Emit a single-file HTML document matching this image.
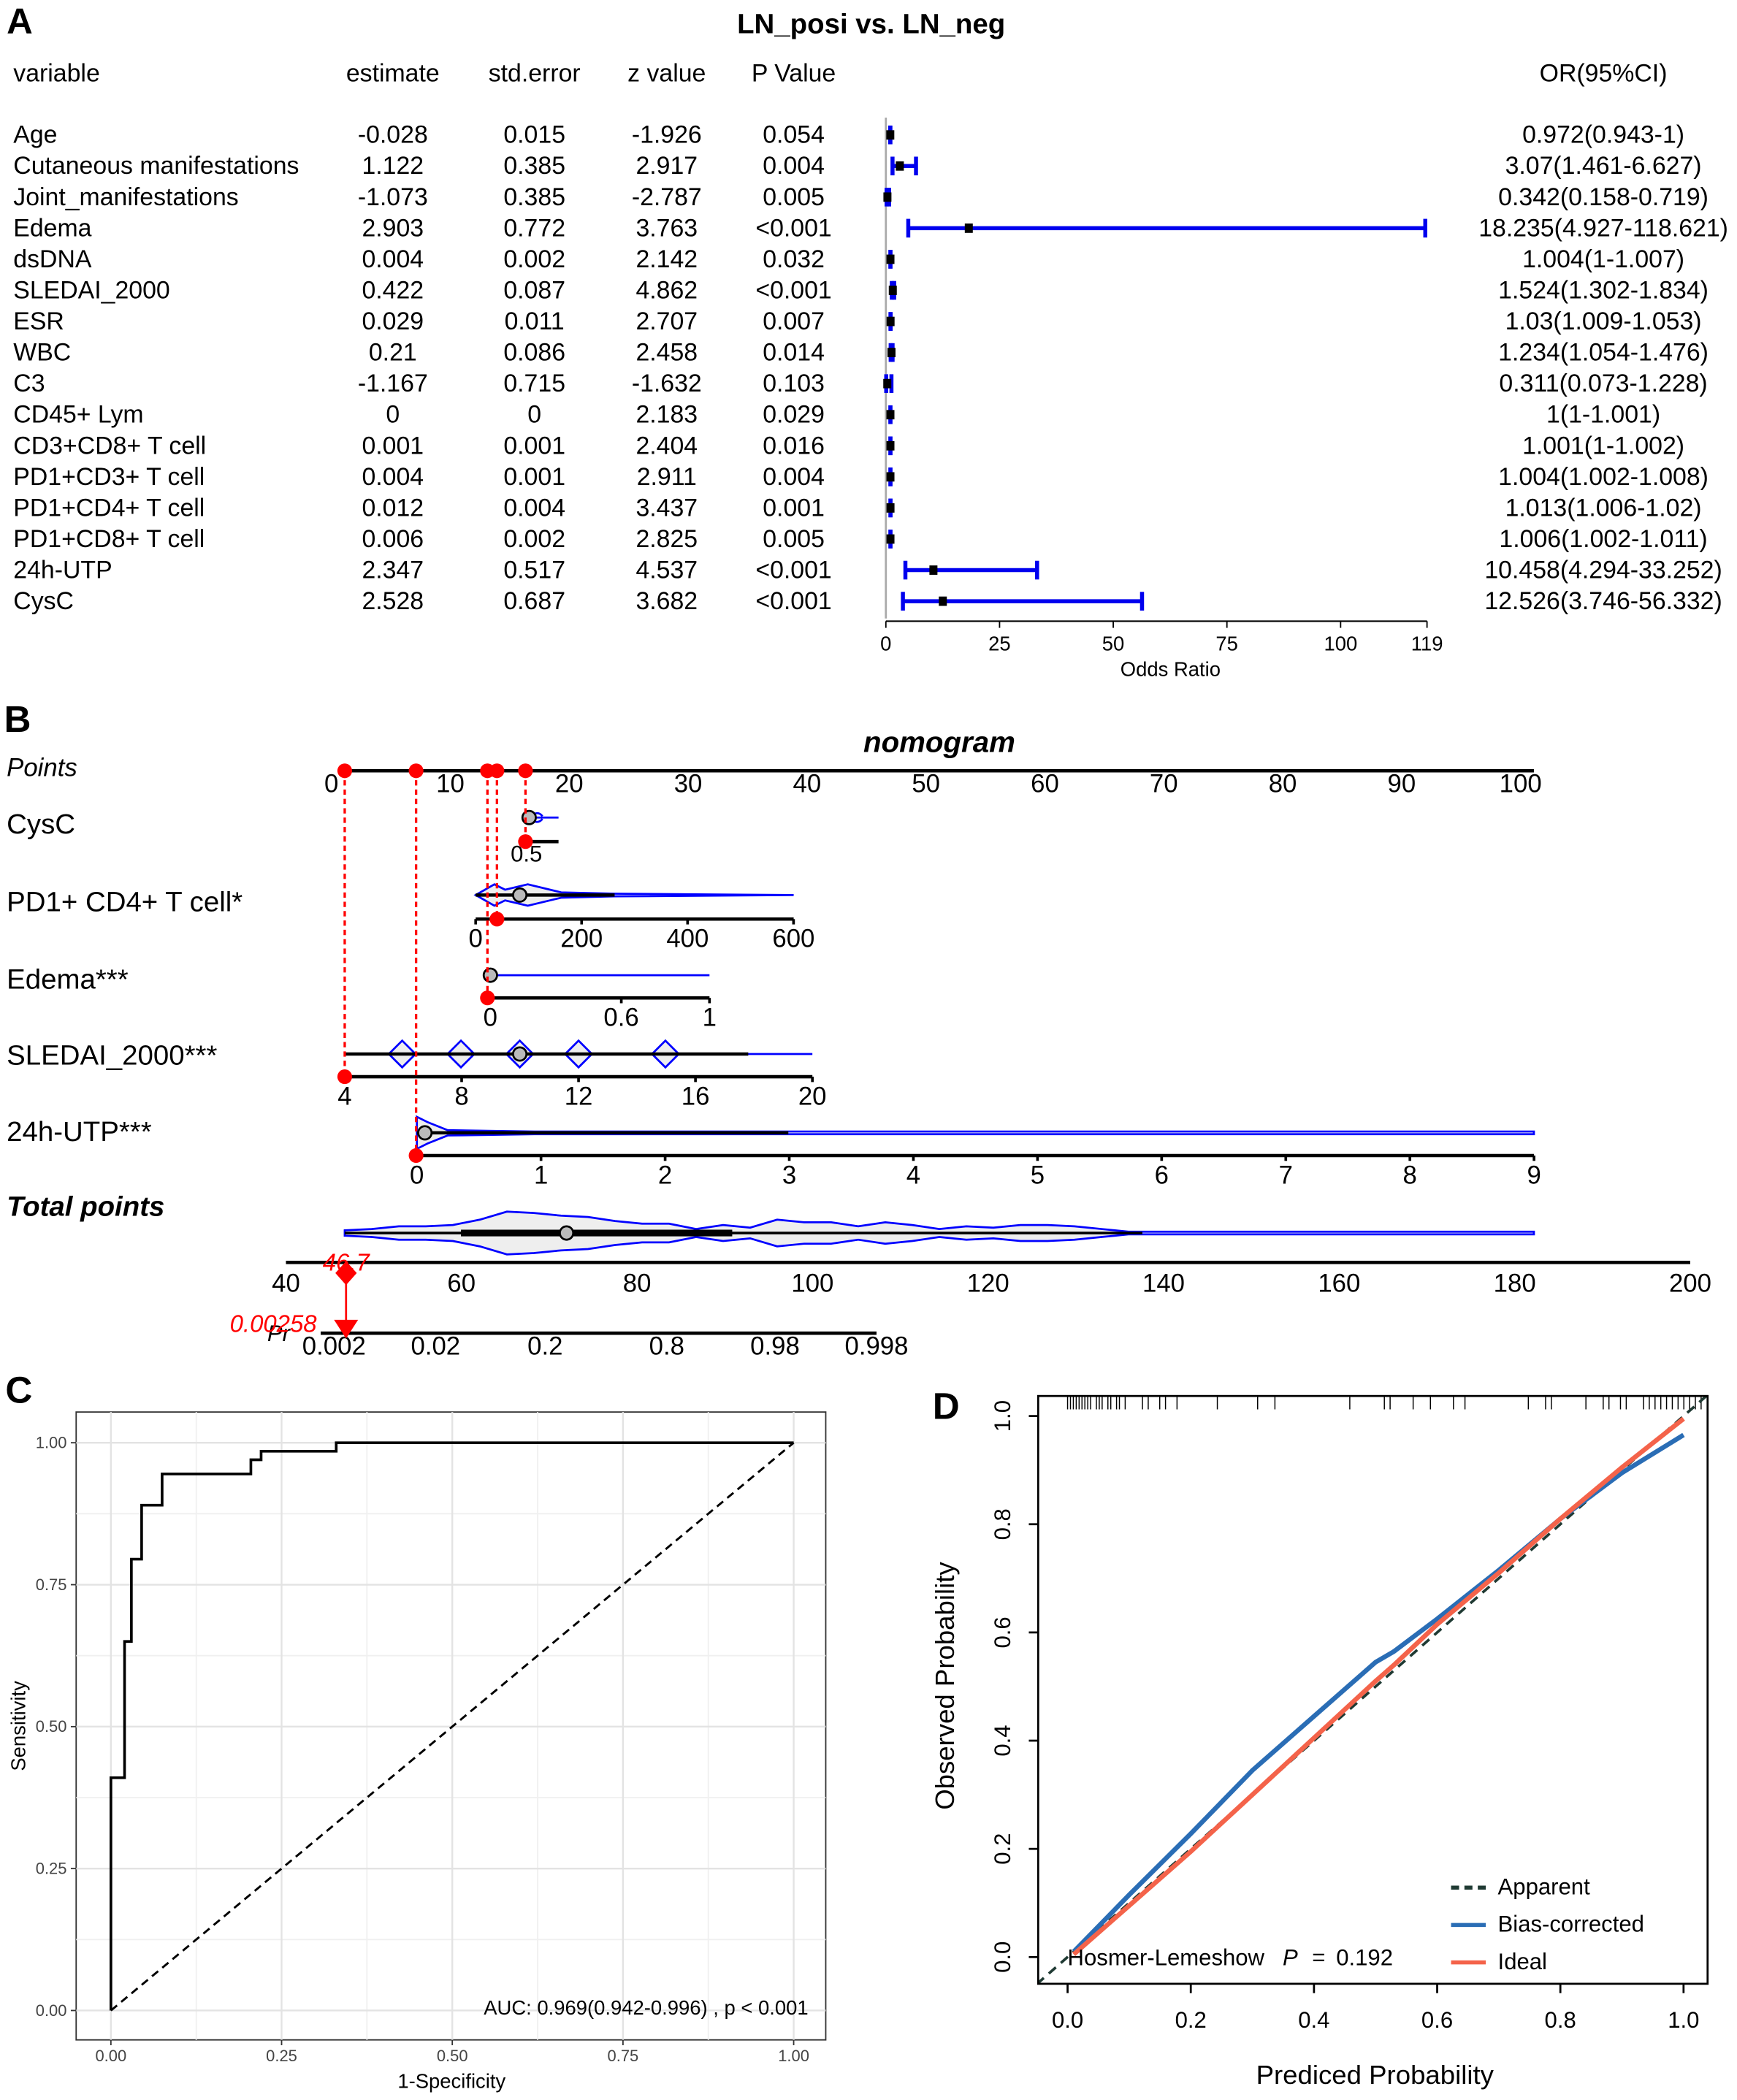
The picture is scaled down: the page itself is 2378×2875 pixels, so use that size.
<!DOCTYPE html>
<html><head><meta charset="utf-8"><style>
html,body{margin:0;padding:0;background:#fff}
svg{display:block}
text{font-family:"Liberation Sans",Arial,sans-serif}
</style></head><body>
<svg id="fig" xmlns="http://www.w3.org/2000/svg" width="2378" height="2875" viewBox="0 0 1300 1572" preserveAspectRatio="none">
<rect width="1300" height="1572" fill="#fff"/>
<g id="pa"></g>
<g id="pb"></g>
<g id="pc"></g>
<g id="pd"></g>
</svg>
<script>
// ---------- Panel A data ----------
const varNames=["Age","Cutaneous manifestations","Joint_manifestations","Edema","dsDNA","SLEDAI_2000","ESR","WBC","C3","CD45+ Lym","CD3+CD8+ T cell","PD1+CD3+ T cell","PD1+CD4+ T cell","PD1+CD8+ T cell","24h-UTP","CysC"];
const estimates=["-0.028","1.122","-1.073","2.903","0.004","0.422","0.029","0.21","-1.167","0","0.001","0.004","0.012","0.006","2.347","2.528"];
const stdErrors=["0.015","0.385","0.385","0.772","0.002","0.087","0.011","0.086","0.715","0","0.001","0.001","0.004","0.002","0.517","0.687"];
const zValues=["-1.926","2.917","-2.787","3.763","2.142","4.862","2.707","2.458","-1.632","2.183","2.404","2.911","3.437","2.825","4.537","3.682"];
const pValues=["0.054","0.004","0.005","<0.001","0.032","<0.001","0.007","0.014","0.103","0.029","0.016","0.004","0.001","0.005","<0.001","<0.001"];
const orValues=[0.972,3.07,0.342,18.235,1.004,1.524,1.03,1.234,0.311,1,1.001,1.004,1.013,1.006,10.458,12.526];
const orLow=[0.943,1.461,0.158,4.927,1,1.302,1.009,1.054,0.073,1,1,1.002,1.006,1.002,4.294,3.746];
const orHigh=[1,6.627,0.719,118.621,1.007,1.834,1.053,1.476,1.228,1.001,1.002,1.008,1.02,1.011,33.252,56.332];
const orLabels=["0.972(0.943-1)","3.07(1.461-6.627)","0.342(0.158-0.719)","18.235(4.927-118.621)","1.004(1-1.007)","1.524(1.302-1.834)","1.03(1.009-1.053)","1.234(1.054-1.476)","0.311(0.073-1.228)","1(1-1.001)","1.001(1-1.002)","1.004(1.002-1.008)","1.013(1.006-1.02)","1.006(1.002-1.011)","10.458(4.294-33.252)","12.526(3.746-56.332)"];
const orTicks=[0,25,50,75,100,119];

// ---------- Panel B data ----------
const pointTicks=[0,10,20,30,40,50,60,70,80,90,100];
const selectedPoints=[0,6,12,12.8,15.2];
const totalTicks=[40,60,80,100,120,140,160,180,200];
const totalViolin=[2,3,5,5,6,10,16,15,13,12,9,7,7,3,6,4,10,8,8,5,8,6,3,5,4,6,6,5,3,1,1,1,1,1,1,1,1,1,1,1,1,1,1,1,1];
const prLabels=["0.002","0.02","0.2","0.8","0.98","0.998"];
const prValues=[0.002,0.02,0.2,0.8,0.98,0.998];

// ---------- Panel C data ----------
const rocFpr=[0,0,0.02,0.02,0.03,0.03,0.045,0.045,0.075,0.075,0.205,0.205,0.22,0.22,0.33,0.33,1];
const rocTpr=[0,0.41,0.41,0.65,0.65,0.795,0.795,0.89,0.89,0.945,0.945,0.97,0.97,0.985,0.985,1,1];
const rocTicks=[0,0.25,0.5,0.75,1];
const rocTickLabels=["0.00","0.25","0.50","0.75","1.00"];

// ---------- Panel D data ----------
const calX=[0.01,0.1,0.2,0.3,0.4,0.5,0.53,0.6,0.7,0.8,0.9,1.0];
const biasY=[0.01,0.115,0.228,0.345,0.445,0.545,0.565,0.625,0.715,0.81,0.895,0.965];
const idealY=[0.005,0.095,0.195,0.3,0.405,0.51,0.54,0.615,0.71,0.81,0.905,0.995];
const apparentX=[-0.05,1.05];
const apparentY=[-0.05,1.05];
const rugX=[0.0,0.005,0.01,0.015,0.02,0.025,0.03,0.035,0.04,0.05,0.055,0.06,0.07,0.075,0.085,0.09,0.1,0.13,0.14,0.16,0.17,0.19,0.26,0.33,0.36,0.49,0.55,0.56,0.6,0.63,0.67,0.69,0.8,0.83,0.84,0.9,0.93,0.94,0.96,0.97,1.0,1.01,1.02,1.03,1.04,1.05,1.06,1.07,1.08,1.09,1.1];
const calTicks=[0,0.2,0.4,0.6,0.8,1.0];
const calTickLabels=["0.0","0.2","0.4","0.6","0.8","1.0"];

const NS="http://www.w3.org/2000/svg";
function mk(parent,tag,attrs,txt){const e=document.createElementNS(NS,tag);for(const k in attrs)e.setAttribute(k,attrs[k]);if(txt!==undefined)e.textContent=txt;parent.appendChild(e);return e;}

// ===== Panel A =====
const pa=document.getElementById('pa');
const FA=18.5;
const xOR=v=>663+v*(405/119);
const rowY=i=>101+i*23.27;
let t=mk(pa,'text',{x:5,y:25,'font-size':27,'font-weight':'bold'},'A');

t=mk(pa,'text',{x:652,y:25,'font-size':21,'font-weight':'bold','text-anchor':'middle'},'LN_posi vs. LN_neg');

const heads=[["variable",10,'start'],["estimate",294,'middle'],["std.error",400,'middle'],["z value",499,'middle'],["P Value",594,'middle'],["OR(95%CI)",1200,'middle']];
heads.forEach(h=>{const e=mk(pa,'text',{x:h[1],y:61,'font-size':FA,'text-anchor':h[2]},h[0]);
});
mk(pa,'line',{x1:663,y1:88,x2:663,y2:463,stroke:'#aaa','stroke-width':1.5});
varNames.forEach((n,i)=>{
  const y=rowY(i)+6;
  let e=mk(pa,'text',{x:10,y:y,'font-size':FA},n);
  e=mk(pa,'text',{x:294,y:y,'font-size':FA,'text-anchor':'middle'},estimates[i]);
  e=mk(pa,'text',{x:400,y:y,'font-size':FA,'text-anchor':'middle'},stdErrors[i]);
  e=mk(pa,'text',{x:499,y:y,'font-size':FA,'text-anchor':'middle'},zValues[i]);
  e=mk(pa,'text',{x:594,y:y,'font-size':FA,'text-anchor':'middle'},pValues[i]);
  e=mk(pa,'text',{x:1200,y:y,'font-size':FA,'text-anchor':'middle'},orLabels[i]);
  const rg=mk(pa,'g',{});
  const ry=rowY(i),a=xOR(orLow[i]),b=xOR(orHigh[i]);
  mk(rg,'line',{x1:a,y1:ry,x2:b,y2:ry,stroke:'#0000ee','stroke-width':3});
  mk(rg,'line',{x1:a,y1:ry-7,x2:a,y2:ry+7,stroke:'#0000ee','stroke-width':3});
  mk(rg,'line',{x1:b,y1:ry-7,x2:b,y2:ry+7,stroke:'#0000ee','stroke-width':3});
  mk(rg,'rect',{x:xOR(orValues[i])-3,y:ry-3.5,width:6,height:7,fill:'#000'});
});
mk(pa,'line',{x1:xOR(0),y1:465,x2:xOR(119),y2:465,stroke:'#000','stroke-width':1.2});
orTicks.forEach(v=>{mk(pa,'line',{x1:xOR(v),y1:465,x2:xOR(v),y2:470,stroke:'#000'});
 const e=mk(pa,'text',{x:xOR(v),y:487,'font-size':15,'text-anchor':'middle'},String(v));});
t=mk(pa,'text',{x:876,y:506,'font-size':15,'text-anchor':'middle'},'Odds Ratio');

// ===== Panel B =====
const pb=document.getElementById('pb');
const xP=p=>258+p*8.9;
t=mk(pb,'text',{x:3,y:548,'font-size':28,'font-weight':'bold'},'B');
t=mk(pb,'text',{x:703,y:563,'font-size':22,'font-weight':'bold','font-style':'italic','text-anchor':'middle'},'nomogram');
function axis(ag,y,x1,x2,labels,posFn){
  mk(ag,'line',{x1:x1,y1:y,x2:x2,y2:y,stroke:'#000','stroke-width':2.5});
  labels.forEach((l,i)=>{const x=posFn(i);mk(ag,'line',{x1:x,y1:y,x2:x,y2:y+4,stroke:'#000','stroke-width':2});
   const e=mk(ag,'text',{x:x,y:y+21,'font-size':19,'text-anchor':'middle'},l);});
}
function rowLabel(txt,y,bold){const e=mk(pb,'text',{x:5,y:y,'font-size':21,'font-style':bold?'italic':'normal','font-weight':bold?'bold':'normal'},txt);}
t=mk(pb,'text',{x:5,y:581,'font-size':19,'font-style':'italic'},'Points');
let g=mk(pb,'g',{});
mk(g,'line',{x1:xP(0),y1:577,x2:xP(100),y2:577,stroke:'#000','stroke-width':2.5});
pointTicks.forEach(p=>{const e=mk(g,'text',{x:xP(p)-10,y:593,'font-size':19,'text-anchor':'middle'},String(p));});
rowLabel('CysC',624);rowLabel('PD1+ CD4+ T cell*',682);rowLabel('Edema***',740);rowLabel('SLEDAI_2000***',797);rowLabel('24h-UTP***',854);rowLabel('Total points',910,true);
// CysC
g=mk(pb,'g',{});
mk(g,'path',{d:'M396 612 L418 612 M396 612 q6 -6 10 -1 M396 612 q6 6 10 1',stroke:'#00f',fill:'none','stroke-width':1.5});
mk(g,'circle',{cx:396,cy:612,r:5,fill:'#bbb',stroke:'#000','stroke-width':1.5});
mk(g,'line',{x1:396,y1:630,x2:418,y2:630,stroke:'#000','stroke-width':2.5});
t=mk(g,'text',{x:394,y:645,'font-size':17,'text-anchor':'middle'},'0.5');
// PD1
g=mk(pb,'g',{});
mk(g,'path',{d:'M356 670 L370 662 L378 666 L395 662 L420 668 L460 669 L594 670 L460 671 L420 672 L395 678 L378 674 L370 678 Z',fill:'#eee',stroke:'#00f','stroke-width':1.5});
mk(g,'line',{x1:356,y1:670,x2:460,y2:670,stroke:'#000','stroke-width':2.5});
mk(g,'circle',{cx:389,cy:670,r:5,fill:'#bbb',stroke:'#000','stroke-width':1.5});
axis(g,688,356,594,["0","200","400","600"],i=>356+i*79.3);
// Edema
g=mk(pb,'g',{});
mk(g,'line',{x1:367,y1:730,x2:531,y2:730,stroke:'#00f','stroke-width':1.5});
mk(g,'circle',{cx:367,cy:730,r:5,fill:'#bbb',stroke:'#000','stroke-width':1.5});
axis(g,747,367,531,["0","0.6","1"],i=>[367,465,531][i]);
// SLEDAI
g=mk(pb,'g',{});
mk(g,'line',{x1:258,y1:789,x2:608,y2:789,stroke:'#00f','stroke-width':1.5});
[301,345,389,433,498].forEach(x=>mk(g,'path',{d:`M${x-10} 789 L${x} 779 L${x+10} 789 L${x} 799 Z`,fill:'#eee',stroke:'#00f','stroke-width':1.5}));
mk(g,'line',{x1:258,y1:789,x2:560,y2:789,stroke:'#000','stroke-width':2.5});
mk(g,'circle',{cx:389,cy:789,r:5,fill:'#bbb',stroke:'#000','stroke-width':1.5});
axis(g,806,258,608,["4","8","12","16","20"],i=>258+i*87.5);
// UTP
g=mk(pb,'g',{});
mk(g,'path',{d:'M312 836 L320 840 L335 846 L400 847 L1148 847 L1148 849 L400 849 L335 850 L320 856 L312 860 Z',fill:'#eee',stroke:'#00f','stroke-width':1.5});
mk(g,'line',{x1:312,y1:848,x2:590,y2:848,stroke:'#000','stroke-width':2.5});
mk(g,'circle',{cx:318,cy:848,r:5,fill:'#bbb',stroke:'#000','stroke-width':1.5});
axis(g,865,312,1148,["0","1","2","3","4","5","6","7","8","9"],i=>312+i*92.9);
// Total points
g=mk(pb,'g',{});
const xT=v=>214+(v-40)*(1051/160);
let violTop='',violBot='';const vStep=(1148-258)/(totalViolin.length-1);
totalViolin.forEach((h,i)=>{const x=258+i*vStep;violTop+=(i?' L':'M')+x+' '+(923-h);});
for(let i=totalViolin.length-1;i>=0;i--){violBot+=' L'+(258+i*vStep)+' '+(923+totalViolin[i]);}
mk(g,'path',{d:violTop+violBot+' Z',fill:'#eee',stroke:'#00f','stroke-width':1.5});
mk(g,'line',{x1:258,y1:923,x2:855,y2:923,stroke:'#000','stroke-width':2});
mk(g,'line',{x1:345,y1:923,x2:548,y2:923,stroke:'#000','stroke-width':5});
mk(g,'circle',{cx:424,cy:923,r:5,fill:'#bbb',stroke:'#000','stroke-width':1.5});
mk(g,'line',{x1:214,y1:945,x2:1265,y2:945,stroke:'#000','stroke-width':2.5});
totalTicks.forEach(v=>{const e=mk(g,'text',{x:xT(v),y:967,'font-size':19,'text-anchor':'middle'},String(v));});
// Pr axis
g=mk(pb,'g',{});
mk(g,'line',{x1:240,y1:998,x2:656,y2:998,stroke:'#000','stroke-width':2.5});
const prX=[250,326,408,499,580,656];
prLabels.forEach((l,i)=>{const e=mk(g,'text',{x:prX[i],y:1014,'font-size':19,'text-anchor':'middle'},l);});
t=mk(g,'text',{x:200,y:1004,'font-size':17,'font-style':'italic'},'Pr');
// red selections
g=mk(pb,'g',{});
const ends=[806,865,747,688,630];
selectedPoints.forEach((p,i)=>{const x=xP(p);
 mk(g,'line',{x1:x,y1:577,x2:x,y2:ends[i],stroke:'#f00','stroke-width':1.8,'stroke-dasharray':'4 3'});
 mk(g,'circle',{cx:x,cy:577,r:5.5,fill:'#f00'});mk(g,'circle',{cx:x,cy:ends[i],r:5.5,fill:'#f00'});});
mk(g,'path',{d:'M259 944 L267 953 L259 962 L251 953 Z',fill:'#f00'});
mk(g,'line',{x1:259,y1:953,x2:259,y2:990,stroke:'#f00','stroke-width':1.5});
mk(g,'path',{d:'M250 988 L268 988 L259 1002 Z',fill:'#f00'});
t=mk(g,'text',{x:259,y:951,'font-size':18,'font-style':'italic',fill:'#f00','text-anchor':'middle'},'46.7');
t=mk(g,'text',{x:172,y:997,'font-size':18,'font-style':'italic',fill:'#f00'},'0.00258');

// ===== Panel C =====
const pc=document.getElementById('pc');
const cxF=v=>83+v*511, cyF=v=>1505-v*425;
t=mk(pc,'text',{x:4,y:1050,'font-size':28,'font-weight':'bold'},'C');
mk(pc,'rect',{x:57,y:1057,width:561,height:470,fill:'#fff',stroke:'#333','stroke-width':1});
[0.125,0.375,0.625,0.875].forEach(v=>{mk(pc,'line',{x1:cxF(v),y1:1057,x2:cxF(v),y2:1527,stroke:'#f0f0f0','stroke-width':1});mk(pc,'line',{x1:57,y1:cyF(v),x2:618,y2:cyF(v),stroke:'#f0f0f0','stroke-width':1});});
rocTicks.forEach((v,i)=>{mk(pc,'line',{x1:cxF(v),y1:1057,x2:cxF(v),y2:1527,stroke:'#e3e3e3','stroke-width':1.3});mk(pc,'line',{x1:57,y1:cyF(v),x2:618,y2:cyF(v),stroke:'#e3e3e3','stroke-width':1.3});
 mk(pc,'line',{x1:cxF(v),y1:1527,x2:cxF(v),y2:1531,stroke:'#333'});mk(pc,'line',{x1:53,y1:cyF(v),x2:57,y2:cyF(v),stroke:'#333'});
 let e=mk(pc,'text',{x:cxF(v),y:1543,'font-size':12,fill:'#444','text-anchor':'middle'},rocTickLabels[i]);
 e=mk(pc,'text',{x:50,y:cyF(v)+4,'font-size':12,fill:'#444','text-anchor':'end'},rocTickLabels[i]);});
let pathD=rocFpr.map((f,i)=>(i?'L':'M')+cxF(f)+' '+cyF(rocTpr[i])).join(' ');
t=mk(pc,'path',{d:pathD,fill:'none',stroke:'#000','stroke-width':2});
t=mk(pc,'line',{x1:cxF(0),y1:cyF(0),x2:cxF(1),y2:cyF(1),stroke:'#000','stroke-width':1.6,'stroke-dasharray':'6 4'});
t=mk(pc,'text',{x:605,y:1508,'font-size':15,'text-anchor':'end','xml:space':'preserve'},'AUC:  0.969(0.942-0.996) , p < 0.001');
t=mk(pc,'text',{x:338,y:1563,'font-size':15,'text-anchor':'middle'},'1-Specificity');
t=mk(pc,'text',{x:19,y:1292,'font-size':15,'text-anchor':'middle',transform:'rotate(-90 19 1292)'},'Sensitivity');

// ===== Panel D =====
const pd=document.getElementById('pd');
const dx=v=>799+v*461, dy=v=>1465-v*405;
t=mk(pd,'text',{x:698,y:1062,'font-size':28,'font-weight':'bold'},'D');
const cp=mk(pd,'clipPath',{id:'dclip'});mk(cp,'rect',{x:777,y:1045,width:501,height:440});
const dg=mk(pd,'g',{'clip-path':'url(#dclip)'});
rugX.forEach(r=>mk(dg,'line',{x1:dx(r*0.935),y1:1045,x2:dx(r*0.935),y2:1055,stroke:'#000','stroke-width':0.8}));
t=mk(dg,'line',{x1:dx(apparentX[0]),y1:dy(apparentY[0]),x2:dx(apparentX[1]),y2:dy(apparentY[1]),stroke:'#1f3a33','stroke-width':2,'stroke-dasharray':'7 5'});
pathD=calX.map((x,i)=>(i?'L':'M')+dx(x)+' '+dy(biasY[i])).join(' ');
t=mk(dg,'path',{d:pathD,fill:'none',stroke:'#2a6db5','stroke-width':3.5});
pathD=calX.map((x,i)=>(i?'L':'M')+dx(x)+' '+dy(idealY[i])).join(' ');
t=mk(dg,'path',{d:pathD,fill:'none',stroke:'#f4634a','stroke-width':3.5});
mk(pd,'rect',{x:777,y:1045,width:501,height:440,fill:'none',stroke:'#000','stroke-width':1.5});
calTicks.forEach((v,i)=>{mk(pd,'line',{x1:dx(v),y1:1485,x2:dx(v),y2:1492,stroke:'#000','stroke-width':1.5});
 mk(pd,'line',{x1:770,y1:dy(v),x2:777,y2:dy(v),stroke:'#000','stroke-width':1.5});
 let e=mk(pd,'text',{x:dx(v),y:1518,'font-size':17,'text-anchor':'middle'},calTickLabels[i]);
 e=mk(pd,'text',{x:756,y:dy(v),'font-size':17,'text-anchor':'middle',transform:`rotate(-90 756 ${dy(v)})`},calTickLabels[i]);});
t=mk(pd,'text',{x:1029,y:1560,'font-size':20,'text-anchor':'middle'},'Prediced Probability');
t=mk(pd,'text',{x:714,y:1262,'font-size':20,'text-anchor':'middle',transform:'rotate(-90 714 1262)'},'Observed Probability');
t=mk(pd,'text',{x:799,y:1471,'font-size':17},'Hosmer-Lemeshow');
t=mk(pd,'text',{x:960,y:1471,'font-size':17,'font-style':'italic'},'P');
t=mk(pd,'text',{x:982,y:1471,'font-size':17},'=');
t=mk(pd,'text',{x:1000,y:1471,'font-size':17},'0.192');
const leg=[['Apparent','#1f3a33','6 4',1418],['Bias-corrected','#2a6db5','none',1446],['Ideal','#f4634a','none',1474]];
leg.forEach(l=>{const lg=mk(pd,'g',{});
 mk(lg,'line',{x1:1086,y1:l[3]-5,x2:1112,y2:l[3]-5,stroke:l[1],'stroke-width':3,'stroke-dasharray':l[2]});
 mk(lg,'text',{x:1121,y:l[3],'font-size':17},l[0]);});
</script>
</body></html>
